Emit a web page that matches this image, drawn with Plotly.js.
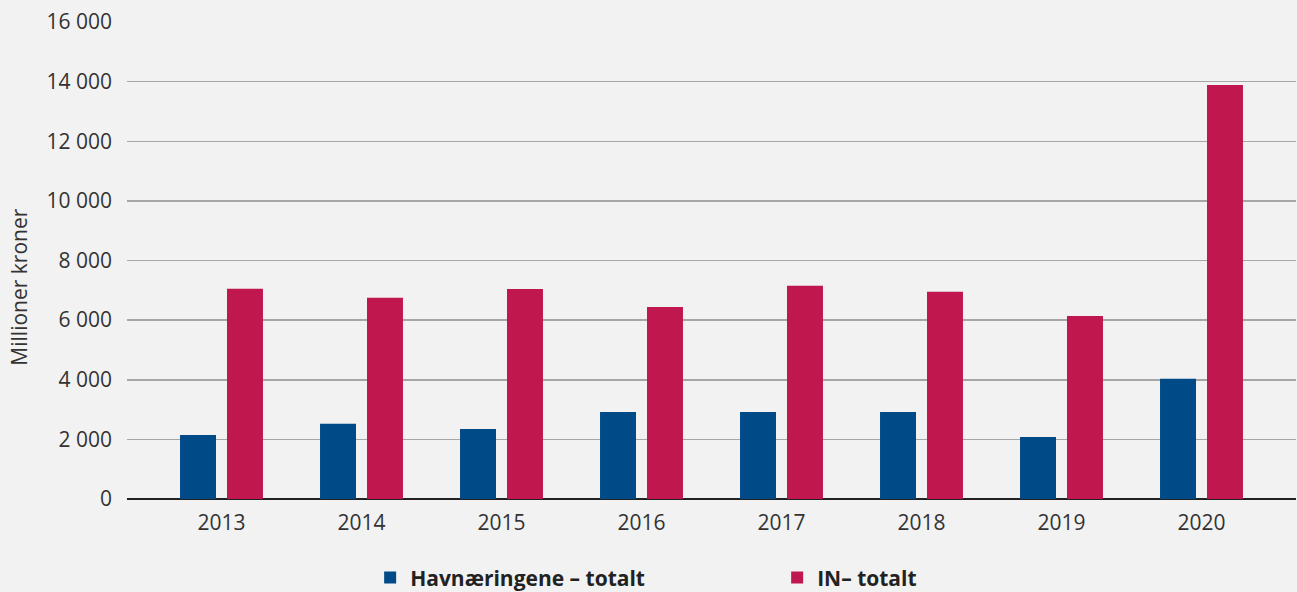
<!DOCTYPE html>
<html>
<head>
<meta charset="utf-8">
<script src="https://cdn.plot.ly/plotly-3.0.1.min.js"></script>
<style>
html,body{margin:0;padding:0;background:#f2f2f2;}
#chart{width:1297px;height:592px;}
</style>
</head>
<body>
<div id="chart"></div>
<script>
const years = ['2013','2014','2015','2016','2017','2018','2019','2020'];
const havnaeringene = [2150, 2520, 2350, 2920, 2920, 2920, 2080, 4030];
const inTotalt = [7050, 6750, 7040, 6440, 7150, 6950, 6140, 13890];
const seriesNames = ['Havnæringene – totalt', 'IN– totalt'];
const yTicks = [0, 2000, 4000, 6000, 8000, 10000, 12000, 14000, 16000];

const font = 'Open Sans, sans-serif';

const traces = [
  {type:'bar', name:seriesNames[0], x:years, y:havnaeringene,
   marker:{color:'#004B87'}, hoverinfo:'x+y'},
  {type:'bar', name:seriesNames[1], x:years, y:inTotalt,
   marker:{color:'#C1174F'}, hoverinfo:'x+y'}
];

const layout = {
  width:1297, height:592,
  paper_bgcolor:'#f2f2f2', plot_bgcolor:'#f2f2f2',
  margin:{l:127, r:1, t:22, b:93},
  separators:', ',
  barmode:'group', bargap:0.329, bargroupgap:0.234,
  font:{family:font, size:21, color:'#333'},
  showlegend:true,
  legend:{orientation:'h', xref:'paper', x:0.208, xanchor:'left',
          yref:'container', y:0.024, yanchor:'middle',
          font:{family:font, size:21, color:'#222', weight:'bold'},
          entrywidth:362, entrywidthmode:'pixels', traceorder:'normal',
          bgcolor:'rgba(0,0,0,0)'},
  xaxis:{type:'category', range:[-0.675, 7.675], showgrid:false, ticks:'',
         showline:false, tickfont:{family:font, size:21, color:'#333'},
         ticklabelstandoff:9, fixedrange:true},
  yaxis:{range:[0,16000], tickvals:yTicks, tickformat:',d',
         showgrid:true, gridcolor:'#a6a6a6', gridwidth:1.5,
         zeroline:true, zerolinecolor:'#222', zerolinewidth:2.2,
         showline:false, ticks:'', ticklabelstandoff:14,
         tickfont:{family:font, size:21, color:'#333'}, fixedrange:true},
  annotations:[{text:'Millioner kroner', xref:'paper', yref:'paper',
                x:-0.092, y:0.444, xanchor:'center', yanchor:'middle',
                textangle:-90, showarrow:false,
                font:{family:font, size:21, color:'#333'}}]
};

Plotly.newPlot('chart', traces, layout, {displayModeBar:false, staticPlot:true});
</script>
</body>
</html>
